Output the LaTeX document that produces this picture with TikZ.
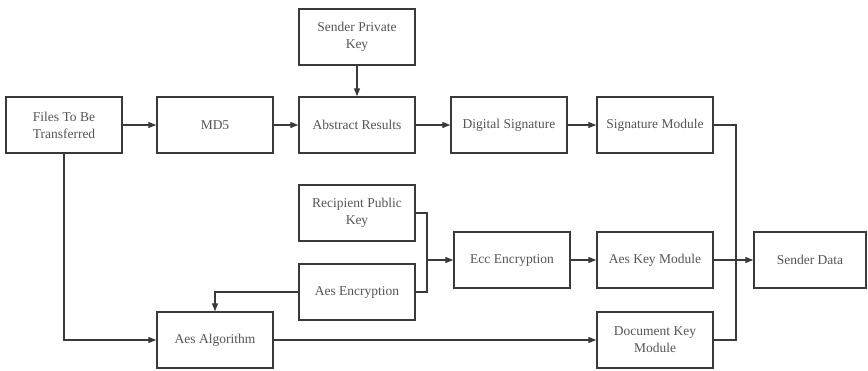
\documentclass[tikz,border=0pt]{standalone}
\usepackage{fontspec}
\setmainfont{Liberation Serif}
\usetikzlibrary{arrows.meta}
\definecolor{linegray}{HTML}{3A3A3A}
\definecolor{textgray}{HTML}{555555}
\begin{document}
\begin{tikzpicture}[x=1pt,y=-1pt,
  box/.style={draw=linegray, line width=1.4pt, fill=white,
    minimum width=116pt, minimum height=56pt, inner sep=2pt,
    text=textgray, align=center, font=\fontsize{13.5}{17}\selectfont},
  conn/.style={draw=linegray, line width=1.3pt},
  arr/.style={conn, -{Triangle[length=8pt,width=6pt]}}]
\useasboundingbox (0,0) rectangle (868,371);

% top row: signing path
\node[box] (files) at (64,125)  {Files To Be\\Transferred};
\node[box] (md5)   at (215,125) {MD5};
\node[box] (spk)   at (357,37)  {Sender Private\\Key};
\node[box] (abs)   at (357,125) {Abstract Results};
\node[box] (dsig)  at (509,125) {Digital Signature};
\node[box] (sigm)  at (655,125) {Signature Module};

% middle row: key encryption
\node[box] (rpk)    at (357,213) {Recipient Public\\Key};
\node[box] (aesenc) at (357,292) {Aes Encryption};
\node[box] (ecc)    at (512,260) {Ecc Encryption};
\node[box] (aeskm)  at (655,260) {Aes Key Module};
\node[box, minimum width=112pt] (sdata) at (810,260) {Sender Data};

% bottom row: document encryption
\node[box] (aesalg) at (215,340) {Aes Algorithm};
\node[box] (dkm)    at (655,340) {Document Key\\Module};

% junction points
\coordinate (j1) at (427,260);
\coordinate (j2) at (736,260);

% connectors
\draw[arr] (files) -- (md5);
\draw[arr] (md5) -- (abs);
\draw[arr] (spk) -- (abs);
\draw[arr] (abs) -- (dsig);
\draw[arr] (dsig) -- (sigm);
\draw[arr] (files.south) |- (aesalg.west);
\draw[arr] (aesenc.west) -| (aesalg.north);
\draw[conn] (rpk.east) -| (j1);
\draw[conn] (aesenc.east) -| (j1);
\draw[arr] (j1) -- (ecc.west);
\draw[arr] (ecc) -- (aeskm);
\draw[arr] (aesalg) -- (dkm);
\draw[conn] (sigm.east) -| (j2);
\draw[conn] (dkm.east) -| (j2);
\draw[arr] (aeskm) -- (sdata);
\end{tikzpicture}
\end{document}
